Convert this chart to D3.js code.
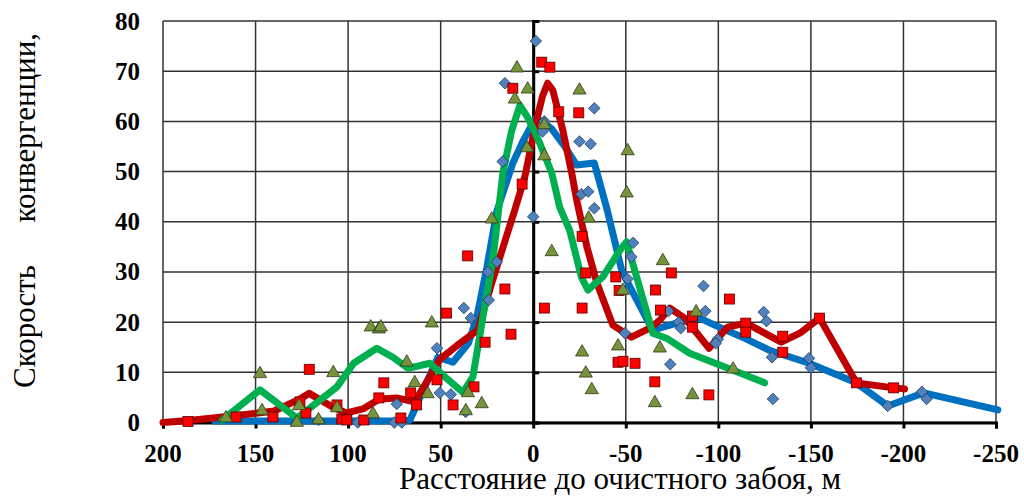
<!DOCTYPE html>
<html>
<head>
<meta charset="utf-8">
<style>
  body { margin: 0; background: #fff; }
  svg { display: block; }
  .serif { font-family: "Liberation Serif", "Times New Roman", "DejaVu Serif", serif; }
</style>
<script src="https://d3js.org/d3.v7.min.js"></script>
</head>
<body>
<script>
// ---- data (x = distance to face, m; y = convergence rate) ----
var xTicks = [200, 150, 100, 50, 0, -50, -100, -150, -200, -250];
var yTicks = [0, 10, 20, 30, 40, 50, 60, 70, 80];

// blue: measured points (diamonds) and smoothed line
var bluePts = [
  [-1.4, 76], [15.3, 67.6], [0, 41], [-6, 60], [-5, 58], [16.5, 52], [-25, 56], [-31, 55.5],
  [-33, 62.6], [-26, 45.5], [-29.7, 46], [-33, 42.7], [19.7, 32], [24.5, 30], [24, 24.4],
  [37.5, 22.8], [33.7, 20.8], [52, 14.8], [50.5, 5.9], [44.5, 5.6], [36.5, 2.1], [73.7, 3.7],
  [75, 0], [71, 0], [94.8, 0], [116, 0.5], [-54, 35.8], [-53, 33], [-51, 28.6], [-49.5, 17.8],
  [-73, 22.2], [-78.6, 20], [-79.7, 18.8], [-74, 11.6], [-92, 27.2], [-93, 22.2], [-99.7, 16.6],
  [-98.6, 15.8], [-124.5, 22], [-126, 20.2], [-129, 13], [-129.5, 4.7], [-149, 12.8], [-150, 10.9],
  [-191.5, 3.3], [-210, 6.1], [-212.5, 4.7]
];
var blueLine = [
  [172, 0.3], [120, 0.3], [70, 0.3], [66.6, 0.5], [51.5, 13], [43.4, 12], [35, 15.8], [30.5, 21],
  [25, 31], [19.7, 42], [11, 51.7], [5.6, 56], [-1, 60.5], [-5, 60], [-10, 58.5], [-17, 55],
  [-23.5, 51.3], [-33, 51.7], [-40, 42.3], [-48, 30], [-64.5, 18.4], [-77.5, 19.8], [-90, 20.8],
  [-98, 19.4], [-113, 17], [-127.6, 14.4], [-149, 11.8], [-174.5, 7.9], [-191.5, 3.3],
  [-211, 5.9], [-251, 2.5]
];

// red: measured points (squares) and smoothed line
var redPts = [
  [186.5, 0.2], [160.6, 1.1], [140.6, 1.1], [126, 4.1], [122.8, 1.9], [121, 10.6], [106, 3.5],
  [103.4, 0.7], [100.7, 0.5], [91.5, 0.5], [83.4, 4.9], [80.7, 7.9], [71.5, 0.9], [66.2, 5.9],
  [63, 3.5], [52, 8.5], [46.8, 21.8], [43.3, 3.5], [35.4, 33.2], [32, 7.1], [26, 16], [15.3, 26.6],
  [12, 17.6], [-6, 22.8], [-26.4, 22.8], [-28.4, 29.8], [-26.4, 37.1], [6, 47.5], [11, 66.6],
  [-4.6, 71.8], [-9, 70.8], [-13.8, 61.9], [-24.6, 61.7], [-44.6, 29], [-46.4, 26.3], [-45.8, 12],
  [-48.5, 12.2], [-55, 11.8], [-74.6, 29.8], [-66, 26.4], [-68.8, 22.4], [-65.7, 8.1], [-86, 21.2],
  [-86, 19], [-94.9, 5.5], [-106, 24.6], [-114.8, 19.8], [-114.8, 18], [-134.8, 17.2],
  [-134.8, 14], [-154.7, 20.8], [-174.6, 7.9], [-194.7, 6.9]
];
var redLine = [
  [200, 0], [186, 0.4], [160, 1.4], [140, 2.3], [127, 4.5], [121, 5.8], [108, 3], [100.8, 1.9],
  [92, 2.7], [83, 4.7], [73.7, 4.9], [64, 4.1], [57.5, 8.1], [50.4, 12.6], [39.6, 15.8],
  [30, 18.4], [22.4, 27.8], [10, 42.3], [4.5, 49], [-1, 59], [-5, 65], [-7.8, 67.6], [-10.6, 66.2],
  [-16, 58.2], [-20.8, 49.7], [-23.5, 44.3], [-29, 35], [-34.4, 27.8], [-43, 19.4], [-53, 17],
  [-63, 18.8], [-68.4, 20.4], [-73.8, 22.8], [-81.8, 20.8], [-88, 18], [-95, 14.8], [-105, 19],
  [-115, 19.8], [-124, 18], [-134, 16], [-144, 17.8], [-154.7, 20.8], [-174.6, 7.9],
  [-194.7, 6.9], [-200.6, 6.7]
];

// green: measured points (triangles) and smoothed line
var greenPts = [
  [166, 0.9], [147.6, 9.7], [146.5, 2.3], [127.7, 0], [126.5, 3.3], [116, 0.5], [108, 9.9],
  [106, 2.9], [86.6, 1.7], [87.8, 19], [83.4, 18.6], [82.3, 19], [68.3, 12], [64, 7.9], [57, 5.7],
  [54.8, 19.8], [27.8, 3.7], [36.4, 2.3], [35.3, 5.9], [22.4, 40.5], [-10, 34], [-30, 40.7],
  [-26.4, 14], [-28.4, 9.8], [-31.6, 6.5], [-45.8, 15.2], [-48.4, 26.3], [8.8, 70.6], [9.9, 64.4],
  [3, 66.4], [3.4, 54.7], [-6, 59.3], [-6, 53.1], [-25, 66.2], [-51, 54.1], [-50.5, 45.7],
  [-70, 32.2], [-68.4, 14.8], [-65.7, 3.9], [-88, 22], [-86, 5.5], [-108, 10.6]
];
var greenLine = [
  [168, 0.5], [147.6, 6.5], [127.7, 0.9], [122, 2.5], [106, 7.1], [97, 11.8], [84.5, 14.8],
  [75.8, 13], [67.7, 10.8], [55.8, 11.8], [46.8, 8.8], [38, 6], [32.6, 9.1], [27.2, 21],
  [21.8, 32.3], [16.4, 49.7], [11.6, 58.2], [7.2, 63.2], [3, 60.8], [-3.5, 55.7], [-10, 49.7],
  [-14.3, 42.9], [-19.7, 38.3], [-26, 29], [-29.5, 26.4], [-37.6, 29], [-46.8, 34.3],
  [-50.4, 36], [-64.6, 17.8], [-72, 16.8], [-84.5, 13.8], [-108, 10.4], [-125, 7.9]
];

var width = 1024, height = 497;
var svg = d3.select("body").append("svg").attr("width", width).attr("height", height);

var x = d3.scaleLinear().domain([200, -250]).range([163, 996]);
var y = d3.scaleLinear().domain([0, 80]).range([422.5, 21]);

// grid
svg.append("g").selectAll("line").data(yTicks).enter().append("line")
  .attr("x1", x(200)).attr("x2", x(-250))
  .attr("y1", function(d) { return y(d); }).attr("y2", function(d) { return y(d); })
  .attr("stroke", "#333").attr("stroke-width", 1.5);
svg.append("g").selectAll("line").data(xTicks).enter().append("line")
  .attr("x1", function(d) { return x(d); }).attr("x2", function(d) { return x(d); })
  .attr("y1", y(0)).attr("y2", y(80))
  .attr("stroke", "#333").attr("stroke-width", 1.5);

// axes through zero
var xAxis = d3.axisBottom(x).tickValues(xTicks).tickSize(6).tickFormat("");
svg.append("g").attr("transform", "translate(0," + y(0) + ")").call(xAxis)
  .call(function(g) { g.selectAll("path,line").attr("stroke", "#000").attr("stroke-width", 3); });
var yAxis = d3.axisRight(y).tickValues(yTicks).tickSize(6).tickSizeOuter(6).tickFormat("");
svg.append("g").attr("transform", "translate(" + x(0) + ",0)").call(yAxis)
  .call(function(g) { g.selectAll("path,line").attr("stroke", "#000").attr("stroke-width", 3); });

// tick labels
svg.append("g").selectAll("text").data(xTicks).enter().append("text")
  .attr("class", "serif")
  .attr("x", function(d) { return x(d); }).attr("y", 462)
  .attr("text-anchor", "middle")
  .attr("font-size", 25).attr("font-weight", "bold")
  .text(function(d) { return d; });
svg.append("g").selectAll("text").data(yTicks).enter().append("text")
  .attr("class", "serif")
  .attr("x", 140).attr("y", function(d) { return y(d) + 8.5; })
  .attr("text-anchor", "end")
  .attr("font-size", 25).attr("font-weight", "bold")
  .text(function(d) { return d; });

// smoothed lines
var line = d3.line().x(function(d) { return x(d[0]); }).y(function(d) { return y(d[1]); });
[[blueLine, "#0070C0"], [redLine, "#C00000"], [greenLine, "#00B050"]].forEach(function(s) {
  svg.append("path").datum(s[0]).attr("d", line)
    .attr("fill", "none").attr("stroke", s[1]).attr("stroke-width", 7)
    .attr("stroke-linejoin", "round").attr("stroke-linecap", "round");
});

// markers
svg.append("g").selectAll("path").data(bluePts).enter().append("path")
  .attr("d", d3.symbol().type(d3.symbolDiamond2).size(85))
  .attr("transform", function(d) { return "translate(" + x(d[0]) + "," + y(d[1]) + ")"; })
  .attr("fill", "#4F81BD").attr("stroke", "#1F3A5F").attr("stroke-width", 0.8);
svg.append("g").selectAll("rect").data(redPts).enter().append("rect")
  .attr("x", function(d) { return x(d[0]) - 5; }).attr("y", function(d) { return y(d[1]) - 5; })
  .attr("width", 10).attr("height", 10)
  .attr("fill", "#FF0000").attr("stroke", "#5a0000").attr("stroke-width", 0.8);
svg.append("g").selectAll("path").data(greenPts).enter().append("path")
  .attr("d", d3.symbol().type(d3.symbolTriangle).size(75))
  .attr("transform", function(d) { return "translate(" + x(d[0]) + "," + y(d[1]) + ")"; })
  .attr("fill", "#77933C").attr("stroke", "#2e3a16").attr("stroke-width", 0.8);

// axis titles
svg.append("text").attr("class", "serif")
  .attr("x", 620).attr("y", 489).attr("text-anchor", "middle")
  .attr("font-size", 31)
  .text("Расстояние до очистного забоя, м");
svg.append("text").attr("class", "serif")
  .attr("transform", "translate(35,388) rotate(-90)").attr("text-anchor", "start")
  .attr("font-size", 31)
  .text("Скорость");
svg.append("text").attr("class", "serif")
  .attr("transform", "translate(35,33) rotate(-90)").attr("text-anchor", "end")
  .attr("font-size", 31)
  .text("конвергенции,");
</script>
</body>
</html>
